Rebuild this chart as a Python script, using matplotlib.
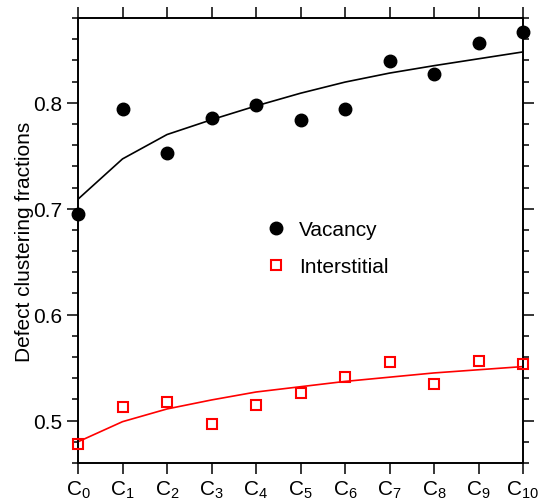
import matplotlib.pyplot as plt
from matplotlib.ticker import MultipleLocator

plt.rcParams['font.family'] = ['Liberation Sans', 'DejaVu Sans']
plt.rcParams['mathtext.default'] = 'regular'

# categories C0..C10
categories = list(range(11))
tick_labels = [r'C$_{%d}$' % i for i in categories]

# measured fractions
vacancy = [0.695, 0.794, 0.753, 0.786, 0.798, 0.784, 0.794, 0.839, 0.827, 0.856, 0.867]
interstitial = [0.478, 0.513, 0.518, 0.497, 0.515, 0.526, 0.541, 0.555, 0.535, 0.556, 0.553]

# fitted curves
vacancy_fit = [0.709, 0.747, 0.770, 0.784, 0.797, 0.809, 0.8195, 0.828, 0.835, 0.8415, 0.848]
interstitial_fit = [0.480, 0.499, 0.511, 0.5195, 0.527, 0.532, 0.537, 0.541, 0.545, 0.548, 0.551]


def main():
    fig = plt.figure(figsize=(553 / 100, 502 / 100), dpi=100)
    ax = fig.add_axes([78 / 553, 1 - 464 / 502, (523 - 78) / 553, (464 - 19) / 502])

    ax.plot(categories, vacancy_fit, color='black', lw=1.2, zorder=2)
    ax.plot(categories, interstitial_fit, color='red', lw=1.2, zorder=2)
    ax.plot(categories, vacancy, 'o', color='black', ms=9, ls='none',
            label='Vacancy', zorder=3, clip_on=False)
    ax.plot(categories, interstitial, 's', mfc='none', mec='red', mew=1.5, ms=7.5,
            ls='none', label='Interstitial', zorder=3, clip_on=False)

    ax.set_xlim(0, 10)
    ax.set_ylim(0.46, 0.88)
    ax.set_xticks(categories)
    ax.set_xticklabels(tick_labels)
    ax.yaxis.set_major_locator(MultipleLocator(0.1))
    ax.yaxis.set_minor_locator(MultipleLocator(0.02))
    ax.yaxis.set_major_formatter(plt.FormatStrFormatter('%.1f'))

    ax.tick_params(axis='both', which='major', direction='out', length=8, width=1.1,
                   labelsize=15, top=True, right=True, pad=3)
    ax.tick_params(axis='y', which='minor', direction='out', length=4, width=1.1,
                   right=True)
    for s in ax.spines.values():
        s.set_linewidth(1.4)

    ax.set_ylabel('Defect clustering fractions', fontsize=15)
    ax.yaxis.set_label_coords(-0.098, 0.5)

    ax.legend(loc='center', bbox_to_anchor=(0.56, 0.483), frameon=False, fontsize=15,
              handlelength=1.0, handletextpad=0.6, labelspacing=0.85, borderpad=0)

    fig.savefig('out.png', dpi=100)


if __name__ == '__main__':
    main()
